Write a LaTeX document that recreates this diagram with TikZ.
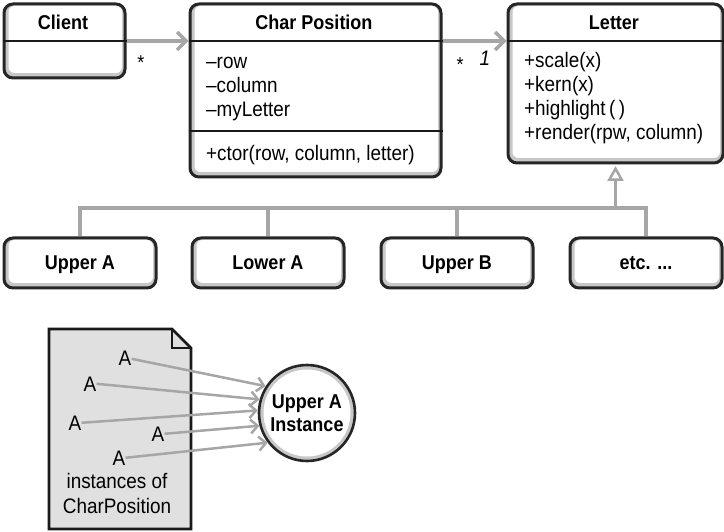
\documentclass[tikz,border=0pt]{standalone}
\usepackage{fontspec}
\setmainfont[FakeStretch=0.9]{Liberation Sans}
\usetikzlibrary{arrows.meta,positioning}
\tikzset{
  classbox/.style={draw=black!85, line width=3pt, fill=black!22, rounded corners=9pt, inner sep=0pt, anchor=north west},
  inner/.style={white, rounded corners=6pt},
  title/.style={font=\fontsize{20}{24}\selectfont\bfseries, inner sep=0pt, anchor=base},
  member/.style={font=\fontsize{21}{24}\selectfont, inner sep=0pt, anchor=base west},
  divider/.style={black!90, line width=1.2pt},
  assoc/.style={black!35, line width=3.5pt, -{Straight Barb[length=9pt, width=18pt]}},
  gen/.style={black!35, line width=3.5pt},
  mult/.style={font=\fontsize{20}{22}\selectfont, inner sep=0pt},
  docpage/.style={draw=black!90, line width=2.6pt, fill=black!12, line join=miter},
  ref/.style={black!35, line width=2.5pt, -{Straight Barb[length=7pt, width=14pt]}},
  instance/.style={circle, draw=black!85, line width=2.6pt, fill=black!22, minimum size=96pt, inner sep=0pt}
}
\begin{document}
\begin{tikzpicture}[x=1pt, y=-1pt]
  \useasboundingbox (0,0) rectangle (724,532);
  % classes
  \node[classbox, minimum width=121pt, minimum height=74pt] (client) at (2.5,2.5) {};
  \node[classbox, minimum width=251pt, minimum height=173pt] (cp) at (188.5,2.5) {};
  \node[classbox, minimum width=215pt, minimum height=159pt] (letter) at (506.5,2.5) {};
  \foreach \x/\n in {2/upA, 190/lowA, 379/upB, 568/etc}
    \node[classbox, minimum width=152pt, minimum height=50pt] (\n) at (\x+0.5,236.5) {};
  \foreach \n in {client, cp, letter, upA, lowA, upB, etc}
    \fill[inner] ([shift={(6pt,6.5pt)}]\n.south west) rectangle ([shift={(-4.5pt,-3.5pt)}]\n.north east);
  \node[title] (client-t) at (63,30) {Client};
  \node[title] (cp-t) at (314,30) {Char Position};
  \node[title] (letter-t) at (614,30) {Letter};
  \draw[divider] (client.west |- 0,41) -- (client.east |- 0,41);
  \draw[divider] (cp.west |- 0,41) -- (cp.east |- 0,41);
  \draw[divider] (cp.west |- 0,131) -- (cp.east |- 0,131);
  \draw[divider] (letter.west |- 0,41) -- (letter.east |- 0,41);
  \foreach \t [count=\i] in {--row, --column, --myLetter}
    \node[member] (cp-\i) at (206,{45+24*\i}) {\t};
  \node[member] (cp-op) at (206,161) {+ctor(row, column, letter)};
  \foreach \t [count=\i] in {+scale(x), +kern(x), +highlight\,(\,), {+render(rpw, column)}}
    \node[member] (letter-\i) at (524,{44+24*\i}) {\t};
  % associations
  \coordinate (a1) at (client.east |- 0,41);
  \coordinate (a2) at (cp.east |- 0,41);
  \draw[assoc] (a1) -- (cp.west |- a1);
  \draw[assoc] (a2) -- (letter.west |- a2);
  \node[mult] (m1) at (141,63) {*};
  \node[mult] (m2) at (460,65) {*};
  \node[member, anchor=center, font=\fontsize{21}{24}\selectfont\itshape] (m3) at (485,58) {1};
  % subclasses
  \foreach \n/\t in {upA/Upper A, lowA/Lower A, upB/Upper B}
    \node[title] (\n-t) at (\n.center) [yshift=-7pt] {\t};
  \node[title] (etc-t) at (etc.center) [yshift=-7pt] {etc. ...};
  \coordinate (bus) at (letter.south |- 0,208);
  \draw[gen] (upA.north) |- (etc.north |- bus) -- (etc.north);
  \draw[gen] (lowA.north) -- (lowA.north |- bus);
  \draw[gen] (upB.north) -- (upB.north |- bus);
  \draw[gen, -{Triangle[open, fill=white, length=15pt, width=16pt, line width=2.5pt]}] (bus) -- ([yshift=-1.5pt]letter.south);
  % flyweight instances
  \draw[docpage] (49,329) -- (172,329) -- (191,348) -- (191,529) -- (49,529) -- cycle;
  \draw[docpage, fill=none] (172,329) -- (172,348) -- (191,348);
  \node[instance] (inst) at (307,413) {};
  \fill[white] (inst.center) circle[radius=43.5pt];
  \node[align=center, font=\fontsize{20}{23}\selectfont\bfseries] (inst-t) at (inst.center) {Upper A\\Instance};
  \foreach \x/\y/\a [count=\i] in {125/366/147, 90/391/164, 75/430/177, 158/441/195, 119/465/217}{
    \node[member, anchor=base] (A\i) at (\x,\y) {A};
    \draw[ref] (A\i.east) -- (inst.\a);
  }
  \node[member, anchor=base] (cap1) at (117,488) {instances of};
  \node[member, anchor=base] (cap2) at (117,513) {CharPosition};
\end{tikzpicture}
\end{document}
